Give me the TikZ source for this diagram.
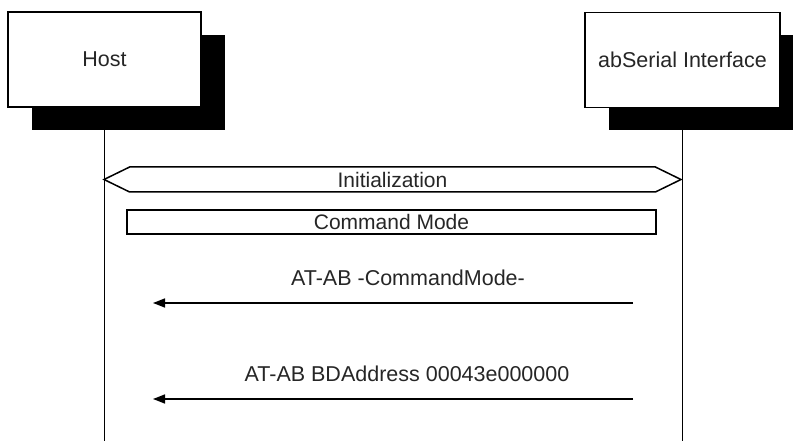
\documentclass[tikz,border=0pt]{standalone}
\usepackage{fontspec}
\setmainfont{Liberation Sans}
\usetikzlibrary{arrows.meta,shadows,shapes.symbols,backgrounds}

\begin{document}
\begin{tikzpicture}[x=1pt, y=-1pt, line width=1.5pt,
	arrows={-Triangle[length=12pt,width=9pt]},
	every node/.style={text=black!85, font=\fontsize{21.5}{25}\selectfont},
	actor/.style={draw, fill=white, minimum width=193pt, minimum height=95pt, inner sep=0pt,
		drop shadow={shadow xshift=24pt, shadow yshift=-23pt, fill=black, opacity=1}},
	region/.style={draw, fill=white, minimum height=24pt, inner sep=0pt, font=\fontsize{21}{24}\selectfont}]
	\useasboundingbox (0,0) rectangle (793,441);
	\node[actor] (H) at (104.5,59.5) {Host};
	\node[actor, minimum width=195pt] (S) at (682.5,60) {abSerial Interface};
	\coordinate (H0) at (105,441);
	\coordinate (S0) at (682,441);
	\begin{scope}[on background layer]
		\draw[-] (H.center) -- (H.center |- H0);
		\draw[-] (S.center) -- (S.center |- S0);
	\end{scope}
	\node[region, signal, signal to=west and east, signal pointer angle=52, minimum width=577pt, minimum height=25pt] (I) at (392.5,179.5) {Initialization};
	\node[region, minimum width=529pt] (C) at (391.5,222) {Command Mode};
	% messages
	\coordinate (M1a) at (633,303);
	\coordinate (M1b) at (153,303);
	\coordinate (M2a) at (633,399);
	\coordinate (M2b) at (153,399);
	\node (L1) at (408,278) {AT-AB -CommandMode-};
	\node (L2) at (407,373.5) {AT-AB BDAddress 00043e000000};
	\draw (M1a) -- (M1b);
	\draw (M2a) -- (M2b);
\end{tikzpicture}
\end{document}
